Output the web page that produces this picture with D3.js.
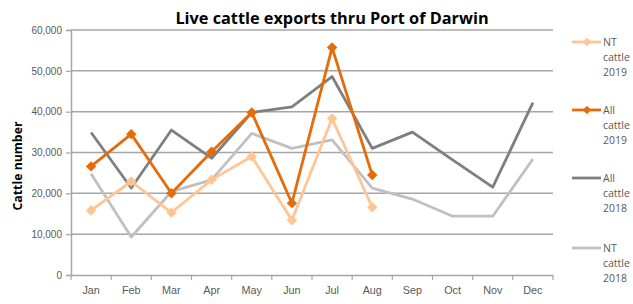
<!DOCTYPE html>
<html>
<head>
<meta charset="utf-8">
<script src="https://cdn.jsdelivr.net/npm/d3@7"></script>
<style>
  body { margin: 0; background: #fff; }
  svg { display: block; font-family: "Open Sans", "Liberation Sans", sans-serif; }
</style>
</head>
<body>
<svg id="chart" width="633" height="304"></svg>
<script>
const months = ["Jan", "Feb", "Mar", "Apr", "May", "Jun", "Jul", "Aug", "Sep", "Oct", "Nov", "Dec"];
const y_ticks = [0, 10000, 20000, 30000, 40000, 50000, 60000];

const nt_2019 = [15800, 22900, 15300, 23300, 29000, 13400, 38300, 16600];
const all_2019 = [26600, 34500, 20000, 30200, 39800, 17600, 55700, 24500];
const all_2018 = [34900, 21300, 35500, 28600, 39800, 41200, 48600, 31000, 35000, 28200, 21500, 42200];
const nt_2018 = [24800, 9300, 20400, 23300, 34700, 31000, 33100, 21300, 18600, 14400, 14400, 28400];

const series_names = [["NT", "cattle", "2019"], ["All", "cattle", "2019"], ["All", "cattle", "2018"], ["NT", "cattle", "2018"]];
const series_colors = ["#ffc594", "#e46c0a", "#7f7f7f", "#c0c0c0"];

const svg = d3.select("#chart");
const margin = { left: 71, right: 80, top: 30, bottom: 29 };
const width = 633, height = 304;

const xScale = d3.scaleBand().domain(months).range([margin.left, width - margin.right]);
const yScale = d3.scaleLinear().domain([0, 60000]).range([height - margin.bottom, margin.top]);

const gridColor = "#a6a6a6";
const textColor = "#595959";

// title
svg.append("text")
    .attr("x", 332)
    .attr("y", 24)
    .attr("text-anchor", "middle")
    .style("font-size", "16.3px")
    .style("font-weight", "bold")
    .style("fill", "#000")
    .text("Live cattle exports thru Port of Darwin");

// y label
svg.append("text")
    .attr("transform", `translate(22, 166) rotate(-90)`)
    .attr("text-anchor", "middle")
    .style("font-size", "12.3px")
    .style("font-weight", "bold")
    .style("fill", "#000")
    .text("Cattle number");

// grid
svg.append("g")
    .selectAll("line")
    .data(y_ticks.slice(1))
    .enter()
    .append("line")
    .attr("x1", margin.left)
    .attr("x2", width - margin.right)
    .attr("y1", d => yScale(d))
    .attr("y2", d => yScale(d))
    .attr("stroke", gridColor)
    .attr("stroke-width", 1.5);

// left axis
const yAxis = svg.append("g")
    .attr("transform", `translate(${margin.left}, 0)`)
    .call(d3.axisLeft(yScale).tickValues(y_ticks).tickSize(5).tickPadding(4).tickFormat(d3.format(",")));
yAxis.select(".domain").attr("stroke", gridColor).attr("stroke-width", 1.5);
yAxis.selectAll(".tick line").attr("stroke", gridColor).attr("stroke-width", 1.2);
yAxis.selectAll(".tick text")
    .style("font-size", "10px")
    .attr("fill", textColor);

// bottom axis
const xAxis = svg.append("g")
    .attr("transform", `translate(0, ${yScale(0)})`)
    .call(d3.axisBottom(xScale).tickSize(0).tickPadding(11));
xAxis.select(".domain").attr("stroke", gridColor).attr("stroke-width", 1.5);
xAxis.selectAll(".tick text")
    .style("font-size", "10.8px")
    .attr("fill", textColor);
const boundaries = d3.range(months.length + 1).map(i => margin.left + i * xScale.bandwidth());
xAxis.selectAll(".bound")
    .data(boundaries)
    .enter()
    .append("line")
    .attr("x1", d => d)
    .attr("x2", d => d)
    .attr("y1", 0)
    .attr("y2", 5)
    .attr("stroke", gridColor)
    .attr("stroke-width", 1.2);

const line = d3.line()
    .x((d, i) => xScale(months[i]) + xScale.bandwidth() / 2)
    .y(d => yScale(d));

const diamond = d3.symbol().type(d3.symbolDiamond2).size(70);

// draw order: 2018 lines behind, then 2019
const draw_order = [
    { data: nt_2018, idx: 3, marker: false },
    { data: all_2018, idx: 2, marker: false },
    { data: nt_2019, idx: 0, marker: true },
    { data: all_2019, idx: 1, marker: true }
];

draw_order.forEach(s => {
    svg.append("path")
        .datum(s.data)
        .attr("d", line)
        .attr("fill", "none")
        .attr("stroke", series_colors[s.idx])
        .attr("stroke-width", 2.8)
        .attr("stroke-linejoin", "round");
    if (s.marker) {
        svg.append("g")
            .selectAll("path")
            .data(s.data)
            .enter()
            .append("path")
            .attr("d", diamond)
            .attr("transform", (d, i) => `translate(${xScale(months[i]) + xScale.bandwidth() / 2}, ${yScale(d)})`)
            .attr("fill", series_colors[s.idx]);
    }
});

// legend
const legendY = [42, 110, 178, 248];
series_names.forEach((name, i) => {
    const g = svg.append("g").attr("transform", `translate(572, ${legendY[i]})`);
    g.append("line")
        .attr("x1", 0).attr("x2", 29)
        .attr("y1", 0).attr("y2", 0)
        .attr("stroke", series_colors[i])
        .attr("stroke-width", 2.8);
    if (i < 2) {
        g.append("path")
            .attr("d", d3.symbol().type(d3.symbolDiamond2).size(45))
            .attr("transform", "translate(15, 0)")
            .attr("fill", series_colors[i]);
    }
    g.append("text")
        .attr("x", 31)
        .attr("y", 4)
        .style("font-size", "10.5px")
        .attr("fill", textColor)
        .selectAll("tspan")
        .data(name)
        .enter()
        .append("tspan")
        .attr("x", 31)
        .attr("dy", (d, j) => j === 0 ? 0 : 15)
        .text(d => d);
});
</script>
</body>
</html>
